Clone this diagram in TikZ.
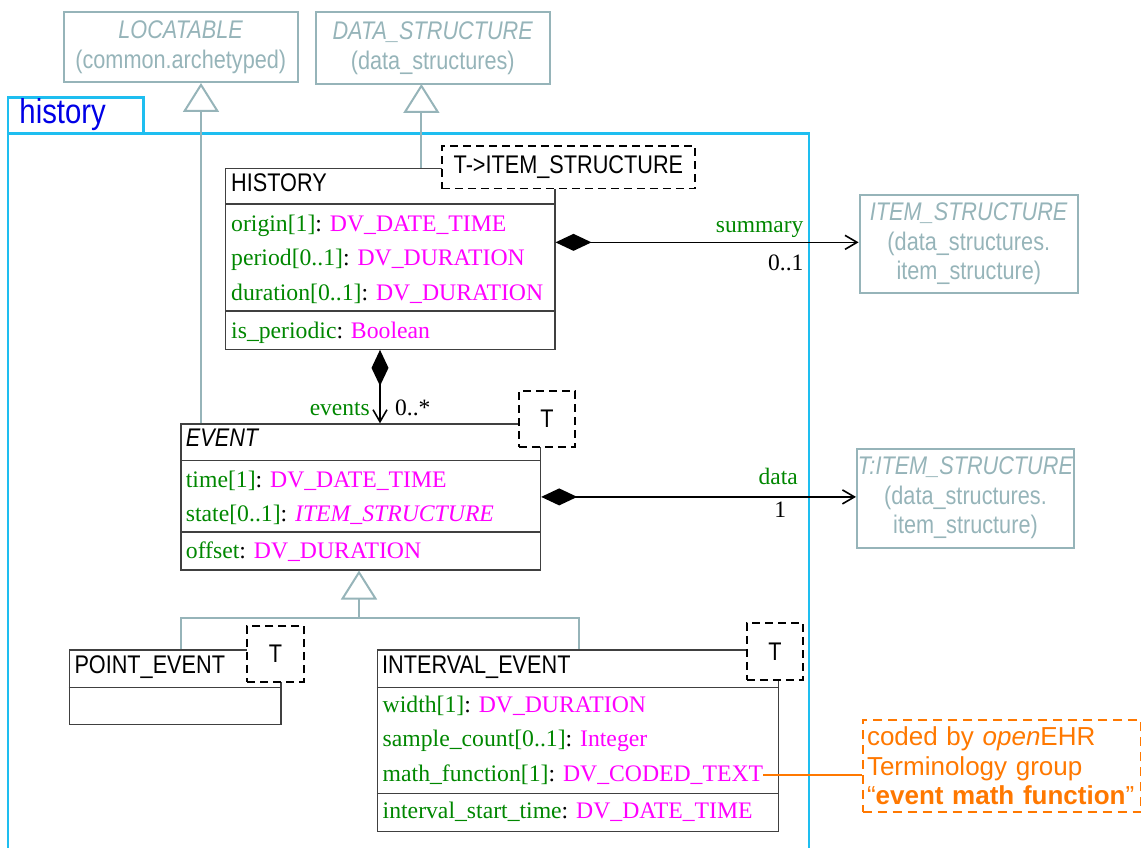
\documentclass[tikz,border=0pt]{standalone}
\usepackage{fontspec}
\setmainfont{Liberation Serif}
\newfontfamily\umlsans[FakeStretch=0.85]{Liberation Sans}
\newfontfamily\notesans{Liberation Sans}
\usepackage{xcolor}
\usetikzlibrary{arrows.meta}
\usetikzlibrary{positioning}

\definecolor{umlgreen}{RGB}{0,135,0}
\definecolor{umltype}{RGB}{255,0,255}
\definecolor{pkgline}{RGB}{30,190,240}
\definecolor{pkgtext}{RGB}{0,0,230}
\definecolor{extgrey}{RGB}{150,180,185}
\definecolor{noteorange}{RGB}{255,120,0}

\newcommand{\attr}[2]{\textcolor{umlgreen}{#1}: \textcolor{umltype}{#2}}

\begin{document}
\begin{tikzpicture}[x=1pt,y=-1pt,
		classbox/.style={draw=black!75,line width=1.2pt,anchor=north west,inner sep=0pt},
		extbox/.style={draw=extgrey,line width=2pt,text=extgrey,font=\umlsans\fontsize{25.5}{29.5}\selectfont,align=center,anchor=north west,inner sep=0pt},
		tmplbox/.style={draw=black,fill=white,dash pattern=on 8pt off 5pt,line width=1.8pt,font=\umlsans\fontsize{25.5}{28}\selectfont,anchor=north west,inner sep=0pt},
		notebox/.style={draw=noteorange,dash pattern=on 9pt off 6pt,line width=2pt,text=noteorange,font=\notesans\fontsize{26}{29.5}\selectfont,align=left,text width=269.5pt,inner xsep=4.5pt,inner ysep=0pt,anchor=north west},
		classname/.style={font=\umlsans\fontsize{25.5}{28}\selectfont,anchor=base west,inner sep=0pt},
		attrib/.style={font=\fontsize{23.7}{28}\selectfont,anchor=base west,inner sep=0pt},
		role/.style={font=\fontsize{23.5}{28}\selectfont,text=umlgreen,inner sep=0pt},
		mult/.style={font=\fontsize{23.5}{28}\selectfont,inner sep=0pt},
		sep/.style={draw=black!75,line width=1.2pt},
		pkg/.style={draw=pkgline,line width=2.5pt},
		gline/.style={draw=extgrey,line width=2pt},
		inherit/.style={gline,-{Triangle[open,fill=white,length=29pt,width=36pt]}},
		comp/.style={line width=1.6pt,{Diamond[length=36pt,width=17pt]}-{Straight Barb[length=12pt,width=14pt]}},
		noteline/.style={draw=noteorange,line width=2pt}]
		\useasboundingbox (0,0) rectangle (1141,848);
		% package
		\draw[pkg] (8,848) -- (8,97.7) -- (143.6,97.7) -- (143.6,133.3);
		\draw[pkg] (8,133.3) -- (809,133.3) -- (809,848);
		\node[anchor=base west,inner sep=0pt,text=pkgtext,font=\umlsans\fontsize{34.5}{36}\selectfont] (pkgname) at (19.3,123.3) {history};
		% outside classes
		\node[extbox,minimum width=234.5pt,minimum height=70pt] (locatable) at (62.5,11) {\textit{LOCATABLE}\\(common.archetyped)};
		\node[extbox,minimum width=234.4pt,minimum height=72pt] (datastruct) at (314.6,11) {\textit{DATA\_STRUCTURE}\\(data\_structures)};
		\node[extbox,minimum width=218.4pt,minimum height=98pt] (itemstruct) at (858.6,194) {\textit{ITEM\_STRUCTURE}\\(data\_structures.\\item\_structure)};
		\node[extbox,minimum width=217pt,minimum height=99pt] (titemstruct) at (856,447.7) {\textit{T:ITEM\_STRUCTURE}\\(data\_structures.\\item\_structure)};
		% HISTORY
		\node[classbox,minimum width=329.3pt,minimum height=180.7pt] (history) at (225,168) {};
		\draw[sep] (225,204) -- (554.3,204);
		\draw[sep] (225,311) -- (554.3,311);
		\node[classname] (historyname) at (231,192) {HISTORY};
		\node[attrib] (horigin) at (231,231.7) {\attr{origin[1]}{DV\_DATE\_TIME}};
		\node[attrib] (hperiod) at (231,265.7) {\attr{period[0..1]}{DV\_DURATION}};
		\node[attrib] (hduration) at (231,300) {\attr{duration[0..1]}{DV\_DURATION}};
		\node[attrib] (hperiodic) at (231,338) {\attr{is\_periodic}{Boolean}};
		\node[tmplbox,minimum width=253pt,minimum height=42.7pt] (historyT) at (441,145) {T->ITEM\_STRUCTURE};
		% EVENT
		\node[classbox,minimum width=359.6pt,minimum height=146pt] (event) at (180.4,423.3) {};
		\draw[sep] (180.4,460.3) -- (540,460.3);
		\draw[sep] (180.4,532) -- (540,532);
		\node[classname] (eventname) at (185.7,446) {\itshape EVENT};
		\node[attrib] (etime) at (185.7,487.3) {\attr{time[1]}{DV\_DATE\_TIME}};
		\node[attrib] (estate) at (185.7,521.7) {\attr{state[0..1]}{\itshape ITEM\_STRUCTURE}};
		\node[attrib] (eoffset) at (185.7,558.3) {\attr{offset}{DV\_DURATION}};
		\node[tmplbox,minimum width=56pt,minimum height=55.7pt] (eventT) at (518,390) {T};
		% POINT_EVENT
		\node[classbox,minimum width=211.8pt,minimum height=74.7pt] (pointev) at (68.6,649.3) {};
		\draw[sep] (68.6,687.3) -- (280.4,687.3);
		\node[classname] (pointevname) at (74.3,673.5) {POINT\_EVENT};
		\node[tmplbox,minimum width=56.5pt,minimum height=56pt] (pointevT) at (246.4,625) {T};
		% INTERVAL_EVENT
		\node[classbox,minimum width=400.7pt,minimum height=181.4pt] (intervalev) at (376.8,649.3) {};
		\draw[sep] (376.8,687.3) -- (777.5,687.3);
		\draw[sep] (376.8,793.3) -- (777.5,793.3);
		\node[classname] (intervalevname) at (382,673.5) {INTERVAL\_EVENT};
		\node[attrib] (iwidth) at (382.5,712.7) {\attr{width[1]}{DV\_DURATION}};
		\node[attrib] (isample) at (382.5,746.7) {\attr{sample\_count[0..1]}{Integer}};
		\node[attrib] (imathfn) at (382.5,781.7) {\attr{math\_function[1]}{DV\_CODED\_TEXT}};
		\node[attrib] (istart) at (382.5,818.3) {\attr{interval\_start\_time}{DV\_DATE\_TIME}};
		\node[tmplbox,minimum width=56pt,minimum height=57pt] (intervalevT) at (746,622) {T};
		% note
		\node[notebox,minimum height=92.6pt] (note) at (861.5,718.7) {coded by \textit{open}EHR\\Terminology group\\“\textbf{event math function}”};
		\draw[noteline] (imathfn.east) -- (imathfn.east -| note.west);
		% inheritance
		\coordinate (locfoot) at (201,83);
		\coordinate (dsfoot) at (421.4,84);
		\coordinate (genjoin) at (359,618.3);
		\coordinate (ptop) at (181,649.3);
		\coordinate (itop) at (578.5,649.3);
		\draw[inherit] (event.north -| locfoot) -- (locfoot);
		\draw[inherit] (history.north -| dsfoot) -- (dsfoot);
		\draw[gline] (ptop) |- (genjoin) -| (itop);
		\draw[inherit] (genjoin) -- (genjoin |- event.south);
		% compositions
		\coordinate (sumfrom) at ([yshift=16.6pt]history.east);
		\coordinate (evx) at (380,0);
		\draw[comp] (sumfrom) -- (sumfrom -| itemstruct.west);
		\draw[comp] (event.east) -- (event.east -| titemstruct.west);
		\draw[comp] (history.south -| evx) -- (event.north -| evx);
		\node[role,anchor=base east] (sumrole) at (803.6,233) {summary};
		\node[mult,anchor=base east] (summult) at (803.6,270.7) {0..1};
		\node[role,anchor=base east] (datarole) at (798,484) {data};
		\node[mult,anchor=base east] (datamult) at (786.4,517) {1};
		\node[role,anchor=base east] (evrole) at (370,415) {events};
		\node[mult,anchor=base west] (evmult) at (395,415) {0..*};
	\end{tikzpicture}
\end{document}
